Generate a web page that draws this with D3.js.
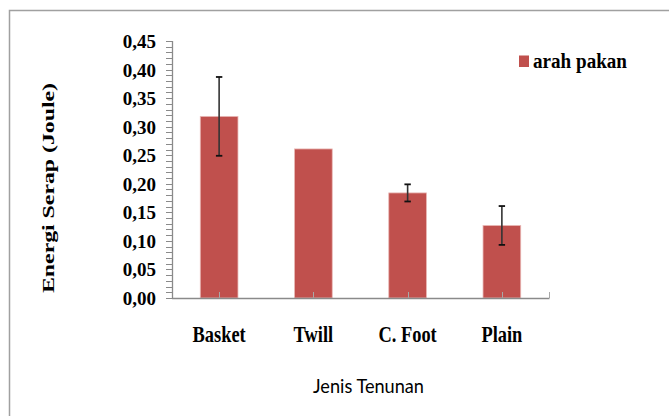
<!DOCTYPE html>
<html><head><meta charset="utf-8">
<script src="https://cdn.jsdelivr.net/npm/d3@7"></script>
<style>html,body{margin:0;padding:0;background:#fff;}svg{display:block;}</style>
</head><body>
<svg id="chart" width="669" height="416"></svg>
<script>
const categories = ["Basket", "Twill", "C. Foot", "Plain"];
const values = [0.318, 0.261, 0.184, 0.127];
const errors = [0.069, null, 0.015, 0.034];
const seriesName = "arah pakan";
const yTicks = [0, 0.05, 0.10, 0.15, 0.20, 0.25, 0.30, 0.35, 0.40, 0.45];
const yTitle = "Energi Serap (Joule)";
const xTitle = "Jenis Tenunan";

const svg = d3.select("#chart");
const serif = "'Liberation Serif','Times New Roman',serif";
const axisColor = "#8a8a8a";
const barColor = "#C0504D";

// frame
svg.append("path").attr("d", "M9.5,416 V10.5 H669").attr("fill", "none")
  .attr("stroke", "#a0a0a0").attr("stroke-width", 1.5);

const x = d3.scaleBand().domain(categories).range([172, 549]).paddingInner(0.6).paddingOuter(0.3);
const y = d3.scaleLinear().domain([0, 0.45]).range([298, 41]);

// minor/major ticks on y axis
const minor = d3.range(0, 46).map(i => i / 100);
svg.append("g").selectAll("line").data(minor).join("line")
  .attr("x1", 166).attr("x2", 172)
  .attr("y1", d => Math.round(y(d)) + 0.5).attr("y2", d => Math.round(y(d)) + 0.5)
  .attr("stroke", axisColor).attr("stroke-width", 1);

// y tick labels
svg.append("g").selectAll("text").data(yTicks).join("text")
  .attr("x", 156).attr("y", d => y(d) + 7)
  .attr("text-anchor", "end")
  .attr("font-family", serif).attr("font-weight", "bold").attr("font-size", 19)
  .attr("fill", "#000")
  .text(d => d3.format(".2f")(d).replace(".", ","));

// bars
svg.append("g").selectAll("rect").data(values).join("rect")
  .attr("x", (d, i) => x(categories[i]))
  .attr("y", d => y(d))
  .attr("width", x.bandwidth())
  .attr("height", d => y(0) - y(d))
  .attr("fill", barColor)
  .attr("stroke", "#e9b8b6").attr("stroke-width", 0.8);

// category tick marks (inside)
const tickXs = categories.map(c => x(c) + x.bandwidth() / 2).concat([549]);
svg.append("g").selectAll("line").data(tickXs).join("line")
  .attr("x1", d => Math.round(d) + 0.5).attr("x2", d => Math.round(d) + 0.5)
  .attr("y1", 292).attr("y2", 298)
  .attr("stroke", "#a8a8a8").attr("stroke-width", 1);

// axes lines
svg.append("line").attr("x1", 172.5).attr("x2", 172.5).attr("y1", 41).attr("y2", 299)
  .attr("stroke", axisColor).attr("stroke-width", 1.3);
svg.append("line").attr("x1", 172).attr("x2", 549.5).attr("y1", 298.5).attr("y2", 298.5)
  .attr("stroke", axisColor).attr("stroke-width", 1.3);

// error bars
const eb = svg.append("g");
values.forEach((v, i) => {
  const e = errors[i];
  if (e == null) return;
  const cx = x(categories[i]) + x.bandwidth() / 2;
  eb.append("line").attr("x1", cx).attr("x2", cx).attr("y1", y(v + e)).attr("y2", y(v - e))
    .attr("stroke", "#333").attr("stroke-width", 1.6);
  [v + e, v - e].forEach(t => {
    eb.append("line").attr("x1", cx - 3.2).attr("x2", cx + 3.2).attr("y1", y(t)).attr("y2", y(t))
      .attr("stroke", "#111").attr("stroke-width", 1.8);
  });
});

// category labels
svg.append("g").selectAll("text").data(categories).join("text")
  .attr("transform", d => `translate(${x(d) + x.bandwidth() / 2},341.5) scale(0.8,1)`)
  .attr("text-anchor", "middle")
  .attr("font-family", serif).attr("font-weight", "bold").attr("font-size", 23)
  .attr("fill", "#000")
  .text(d => d);

// y title
svg.append("text")
  .attr("transform", "translate(54,188) rotate(-90)")
  .attr("text-anchor", "middle")
  .attr("font-family", serif).attr("font-weight", "bold").attr("font-size", 17)
  .attr("textLength", 210).attr("lengthAdjust", "spacingAndGlyphs")
  .attr("fill", "#000")
  .text(yTitle);

// x title
svg.append("text")
  .attr("x", 313).attr("y", 393.3)
  .attr("font-family", "Lato, 'Open Sans', sans-serif").attr("font-size", 20)
  .attr("textLength", 111).attr("lengthAdjust", "spacingAndGlyphs")
  .attr("fill", "#000")
  .text(xTitle);

// legend
svg.append("rect").attr("x", 519).attr("y", 55.5).attr("width", 10).attr("height", 11.5)
  .attr("fill", barColor);
svg.append("text").attr("x", 533).attr("y", 67.7)
  .attr("font-family", serif).attr("font-weight", "bold").attr("font-size", 20)
  .attr("textLength", 94).attr("lengthAdjust", "spacingAndGlyphs")
  .attr("fill", "#000")
  .text(seriesName);
</script>
</body></html>
